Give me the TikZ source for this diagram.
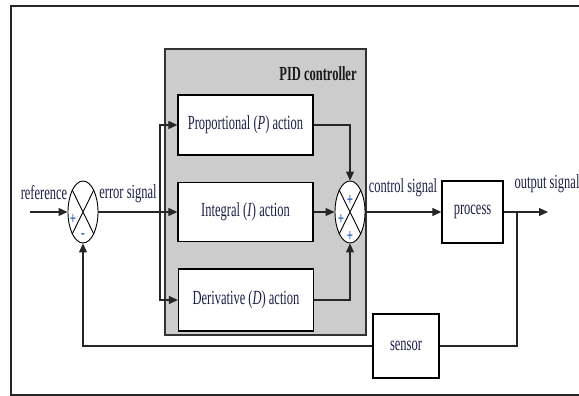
\documentclass[tikz,border=0pt]{standalone}
\usepackage{fontspec}
\usepackage{graphicx}
\setmainfont{Liberation Serif}
\usetikzlibrary{shapes.geometric,arrows.meta}
\definecolor{txt}{rgb}{0.12,0.12,0.28}
\definecolor{sgn}{rgb}{0.15,0.35,0.75}
\newcommand{\vs}[1]{\scalebox{1}[1.6]{#1}}
\tikzset{
  lbl/.style={font=\fontsize{12.5}{14}\selectfont, text=txt, inner sep=0pt},
  blk/.style={draw, line width=1.3pt, fill=white, font=\fontsize{12.5}{14}\selectfont, text=txt, inner sep=0pt},
  summer/.style={ellipse, draw, line width=0.9pt, fill=white, minimum width=30pt, minimum height=62pt, inner sep=0pt},
  sgnl/.style={font=\fontsize{11}{11}\selectfont\bfseries, text=sgn, inner sep=0pt},
  conn/.style={line width=1.1pt, draw=black!85},
  arr/.style={conn, -{Triangle[length=9pt,width=8pt]}}
}
\begin{document}
\begin{tikzpicture}[x=1pt,y=-1pt]
\useasboundingbox (0,0) rectangle (579,396);
% outer frame
\draw[line width=2pt, black!85] (620,6) -- (11,6) -- (11,395) -- (620,395);
% PID controller box
\node[draw=black!80, line width=1.4pt, fill=black!20, minimum width=201pt, minimum height=286pt, inner sep=0pt] (pid) at (265.5,192) {};
\node[lbl, font=\fontsize{12.5}{14}\selectfont\bfseries, text=black!90] (pidt) at (318,74) {\vs{PID controller}};
% blocks
\node[blk, minimum width=135pt, minimum height=60pt] (P) at (245.5,125) {\vs{Proportional (\textit{P}) action}};
\node[blk, minimum width=135pt, minimum height=59pt] (I) at (245.5,212) {\vs{Integral (\textit{I}) action}};
\node[blk, minimum width=135pt, minimum height=62pt] (D) at (246,300) {\vs{Derivative (\textit{D}) action}};
\node[blk, minimum width=61pt, minimum height=62pt] (proc) at (472.5,212) {\vs{process}};
\node[blk, minimum width=66pt, minimum height=64pt] (sens) at (406,346) {\vs{sensor}};
% summing junctions
\node[summer] (s1) at (83,212) {};
\draw[line width=0.9pt] (s1.north west) -- (s1.south east) (s1.north east) -- (s1.south west);
\node[sgnl] (s1a) at (73,220) {\vs{+}};
\node[sgnl] (s1b) at (83,236) {\vs{-}};
\node[summer] (s2) at (350,212) {};
\draw[line width=0.9pt] (s2.north west) -- (s2.south east) (s2.north east) -- (s2.south west);
\node[sgnl] (s2a) at (350,201) {\vs{+}};
\node[sgnl] (s2b) at (341,220) {\vs{+}};
\node[sgnl] (s2c) at (350,237) {\vs{+}};
% coordinates
\coordinate (ref) at (30,212);
\coordinate (br) at (160,212);
\coordinate (out) at (548,212);
\coordinate (tap) at (517,212);
% connectors
\draw[arr] (ref) -- (s1.west);
\draw[arr] (s1.east) -- (I.west);
\draw[arr] (br) |- (P.west);
\draw[arr] (br) |- (D.west);
\draw[arr] (P.east) -| (s2.north);
\draw[arr] (I.east) -- (s2.west);
\draw[arr] (D.east) -| (s2.south);
\draw[arr] (s2.east) -- (proc.west);
\draw[arr] (proc.east) -- (out);
\draw[conn] (tap) |- (sens.east);
\draw[arr] (sens.west) -| (s1.south);
% labels
\node[lbl] (lref) at (44,193) {\vs{reference}};
\node[lbl] (lerr) at (128,194) {\vs{error signal}};
\node[lbl] (lctl) at (403,188) {\vs{control signal}};
\node[lbl] (lout) at (547,184) {\vs{output signal}};
\end{tikzpicture}
\end{document}
